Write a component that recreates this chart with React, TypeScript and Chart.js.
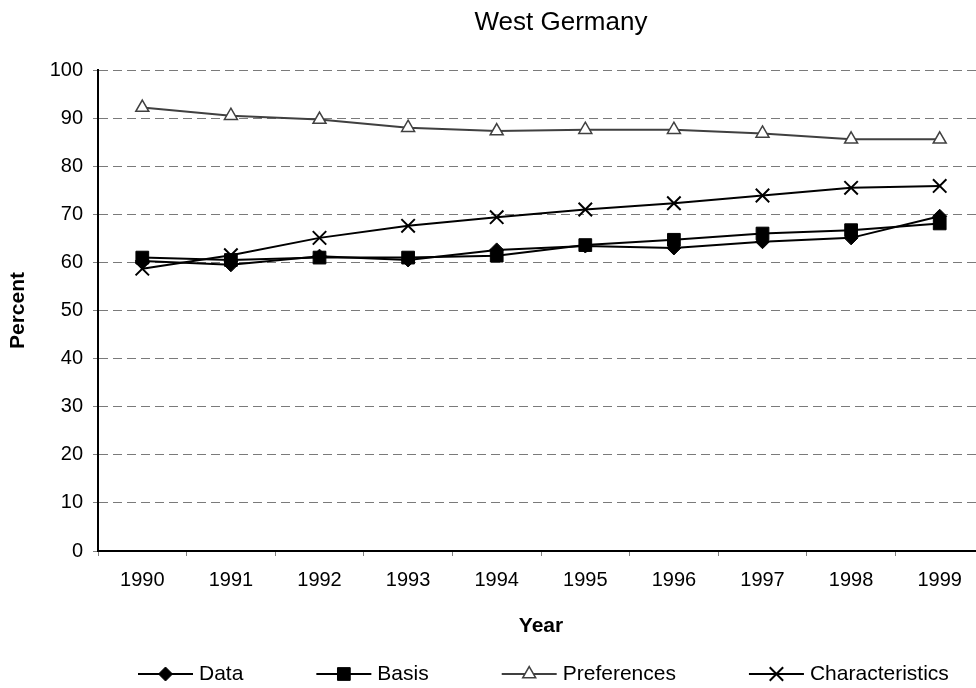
import React, { useEffect, useRef } from 'react';
import { Chart, registerables } from 'chart.js';
import { drawPoint } from 'chart.js/helpers';

Chart.register(...registerables);

const chartTitle = 'West Germany';
const xAxisTitle = 'Year';
const yAxisTitle = 'Percent';
const years = ['1990', '1991', '1992', '1993', '1994', '1995', '1996', '1997', '1998', '1999'];
const dataValues = [60.3, 59.5, 61.3, 60.5, 62.6, 63.4, 63.0, 64.3, 65.1, 69.6];
const basisValues = [61.0, 60.5, 61.0, 61.0, 61.4, 63.6, 64.7, 66.0, 66.7, 68.1];
const preferenceValues = [92.2, 90.5, 89.7, 88.0, 87.3, 87.6, 87.6, 86.8, 85.6, 85.6];
const characteristicValues = [58.7, 61.5, 65.1, 67.6, 69.4, 71.0, 72.3, 73.9, 75.5, 75.9];
const yMin = 0;
const yMax = 100;
const yStep = 10;

const FONT = "'Liberation Sans', Arial, sans-serif";
const PLOT_OVERHANG_RIGHT = 8;

export default function App() {
  const ref = useRef<HTMLCanvasElement>(null);

  useEffect(() => {
    document.body.style.margin = '0';
    const canvas = ref.current;
    if (!canvas) return;

    const extendPlotPlugin = {
      id: 'extendPlot',
      afterLayout(chart: any) {
        const area = chart.chartArea;
        const newRight = chart.width + PLOT_OVERHANG_RIGHT;
        area.right = newRight;
        area.width = newRight - area.left;
        const xs = chart.scales.x;
        xs.right = newRight;
        xs.width = newRight - xs.left;
        xs.configure();
        const ys = chart.scales.y;
        ys.configure();
      },
    };

    const titlePlugin = {
      id: 'customTitle',
      afterDraw(chart: any) {
        const ctx = chart.ctx;
        ctx.save();
        ctx.font = `26px ${FONT}`;
        ctx.fillStyle = '#000';
        ctx.textAlign = 'center';
        ctx.textBaseline = 'middle';
        ctx.fillText(chartTitle, 561, 23);
        ctx.restore();
      },
    };

    const legendPlugin = {
      id: 'customLegend',
      afterDraw(chart: any) {
        const ctx = chart.ctx;
        const y = 674;
        let x = 138;
        const lineLen = 55;
        ctx.save();
        ctx.font = `21px ${FONT}`;
        chart.data.datasets.forEach((ds: any) => {
          ctx.setLineDash([]);
          ctx.strokeStyle = ds.borderColor;
          ctx.lineWidth = ds.borderWidth;
          ctx.beginPath();
          ctx.moveTo(x, y);
          ctx.lineTo(x + lineLen, y);
          ctx.stroke();
          ctx.fillStyle = ds.pointBackgroundColor;
          ctx.strokeStyle = ds.pointBorderColor;
          ctx.lineWidth = ds.pointBorderWidth;
          drawPoint(ctx, { pointStyle: ds.pointStyle, radius: ds.pointRadius, borderWidth: ds.pointBorderWidth, rotation: 0 } as any, x + lineLen / 2, y);
          ctx.fillStyle = '#000';
          ctx.textAlign = 'left';
          ctx.textBaseline = 'middle';
          ctx.fillText(ds.label, x + 61, y);
          x += 61 + ctx.measureText(ds.label).width + 73;
        });
        ctx.restore();
      },
    };

    const chart = new Chart(canvas, {
      type: 'line',
      data: {
        labels: years,
        datasets: [
          {
            label: 'Data',
            data: dataValues,
            borderColor: '#000',
            borderWidth: 2,
            pointStyle: 'rectRot',
            pointRadius: 7,
            pointBackgroundColor: '#000',
            pointBorderColor: '#000',
            pointBorderWidth: 1,
            order: 4,
          },
          {
            label: 'Basis',
            data: basisValues,
            borderColor: '#000',
            borderWidth: 2,
            pointStyle: 'rect',
            pointRadius: 9,
            pointBackgroundColor: '#000',
            pointBorderColor: '#000',
            pointBorderWidth: 1,
            order: 3,
          },
          {
            label: 'Preferences',
            data: preferenceValues,
            borderColor: '#404040',
            borderWidth: 2,
            pointStyle: 'triangle',
            pointRadius: 7.5,
            pointBackgroundColor: '#fff',
            pointBorderColor: '#404040',
            pointBorderWidth: 1.5,
            order: 2,
          },
          {
            label: 'Characteristics',
            data: characteristicValues,
            borderColor: '#000',
            borderWidth: 2,
            pointStyle: 'crossRot',
            pointRadius: 9.5,
            pointBackgroundColor: '#000',
            pointBorderColor: '#000',
            pointBorderWidth: 2,
            order: 1,
          },
        ],
      },
      options: {
        responsive: false,
        animation: false,
        devicePixelRatio: 1,
        layout: { autoPadding: false, padding: { top: 70, left: 0, right: 0, bottom: 40 } },
        plugins: {
          legend: { display: false },
          title: { display: false },
          tooltip: { enabled: false },
        },
        elements: { line: { tension: 0 } },
        scales: {
          x: {
            offset: true,
            grid: {
              display: true,
              drawOnChartArea: false,
              offset: true,
              tickLength: 5,
              tickColor: '#808080',
              tickWidth: 1,
            },
            border: { display: true, color: '#000', width: 2 },
            ticks: {
              color: '#000',
              font: { size: 20, family: FONT },
              padding: 12,
              maxRotation: 0,
              autoSkip: false,
            },
            title: {
              display: true,
              text: xAxisTitle,
              color: '#000',
              font: { size: 21, family: FONT, weight: 'bold' },
              padding: { top: 0, bottom: 9 },
            },
            afterFit: (scale: any) => {
              scale.height = 97;
              scale.paddingLeft = 0;
              scale.paddingRight = 0;
            },
          },
          y: {
            min: yMin,
            max: yMax,
            grid: {
              color: '#7a7a7a',
              lineWidth: 1,
              tickLength: 5,
              tickColor: '#808080',
              tickWidth: 1,
              tickBorderDash: [],
            },
            border: { display: true, color: '#000', width: 2, dash: [9, 5] },
            ticks: {
              stepSize: yStep,
              color: '#000',
              font: { size: 20, family: FONT },
              padding: 10,
            },
            title: {
              display: true,
              text: yAxisTitle,
              color: '#000',
              font: { size: 21, family: FONT, weight: 'bold' },
              padding: { top: 6, bottom: 0 },
            },
            afterFit: (scale: any) => {
              scale.width = 98;
            },
          },
        },
      },
      plugins: [extendPlotPlugin, titlePlugin, legendPlugin],
    } as any);

    return () => chart.destroy();
  }, []);

  return (
    <div style={{ position: 'absolute', left: 0, top: 0, width: 976, height: 688 }}>
      <canvas ref={ref} width={976} height={688} />
    </div>
  );
}
